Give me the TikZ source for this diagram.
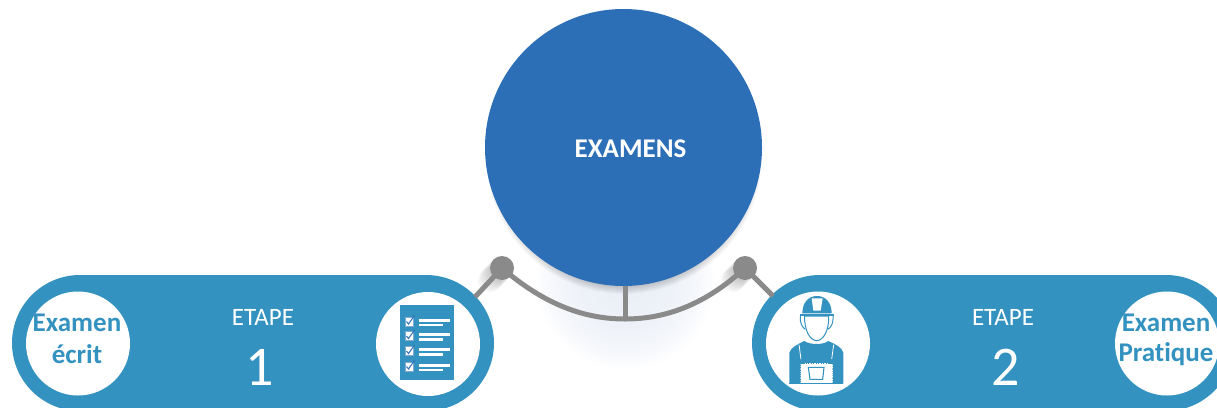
\documentclass[tikz,border=0pt]{standalone}
\usepackage{fontspec}
\setmainfont[Ligatures=NoCommon]{Carlito}
\usetikzlibrary{shapes.misc,calc}
\definecolor{mainblue}{HTML}{2C6FB7}
\definecolor{pillblue}{HTML}{3392BF}
\definecolor{linegray}{HTML}{8A8A8A}
\definecolor{glowa}{HTML}{E9EEF6}
\definecolor{glowb}{HTML}{EEF2F8}
\definecolor{glowd}{HTML}{F5F7FB}
\pgfdeclareradialshading{glowshade}{\pgfpoint{0bp}{0bp}}{color(0bp)=(glowa); color(13bp)=(glowb); color(20bp)=(glowd); color(25bp)=(white); color(50bp)=(white)}
\tikzset{
  pillshape/.style={rounded rectangle,fill=pillblue,minimum height=136pt,inner sep=0pt,outer sep=0pt},
  whitedisc/.style={circle,fill=white,minimum size=104pt,inner sep=0pt,outer sep=0pt},
  hubdot/.style={circle,fill=linegray,minimum size=24pt,inner sep=0pt},
  wire/.style={draw=linegray,line width=5pt},
  labeltext/.style={text=pillblue,font=\fontsize{27}{31}\selectfont\bfseries,align=center,inner sep=0pt},
  etapetext/.style={text=white,font=\fontsize{25}{29}\selectfont,inner sep=0pt},
  numtext/.style={text=white,font=\fontsize{56}{60}\selectfont,inner sep=0pt},
  iconline/.style={fill=white},
  checkbox/.style={fill=white,draw=mainblue!60!white,line width=.8pt},
  checkmark/.style={draw=mainblue,line width=1pt}
}
\newcommand{\checkrow}[1]{%
  \filldraw[checkbox] (405,#1-4.5) rectangle (413.5,#1+4.5);
  \draw[checkmark] (406.5,#1) -- (408.5,#1+2.5) -- (414.5,#1-6);
  \fill[iconline] (419,#1-3) rectangle (450,#1);
  \fill[iconline] (419,#1+2.2) rectangle (443,#1+4.8);
}
\begin{document}
\begin{tikzpicture}[x=1pt,y=-1pt]
\useasboundingbox (0,0) rectangle (1217,407);
\clip (0,0) rectangle (1217,407);
% glow under hub
\fill[shading=glowshade] (535,190) rectangle (715,370);
% contact shadow
\foreach \r in {131,132,...,138}{\fill[black,opacity=.024] (624,156) circle (\r);}
\node[pillshape,minimum width=482pt] (pillL) at (253,343) {};
\node[pillshape,minimum width=482pt] (pillR) at (993,343) {};
\coordinate (endL) at (475,297);
\coordinate (endR) at (773,296);
\coordinate (arcMid) at (625,319);
\coordinate (dotLc) at (502,268);
\coordinate (dotRc) at (745,268);
% dot shadows
\foreach \d in {2,4,...,12}{
  \fill[black,opacity=.035] ($(dotLc)+(-\d,\d)$) circle (12);
  \fill[black,opacity=.035] ($(dotRc)+(-\d,\d)$) circle (12);
}
\node[circle,fill=mainblue,minimum size=277pt,inner sep=0pt] (hub) at (623.5,147.5) {};
\node[text=white,font=\fontsize{27}{31}\selectfont\bfseries,inner sep=0pt] at (630.5,149) {EXAMENS};
\draw[wire] (dotLc) -- (endL);
\draw[wire] (dotRc) -- (endR);
\draw[wire] (hub.south -| arcMid) -- (arcMid);
\draw[wire] (dotLc) .. controls (545,305) and (585,319) .. (arcMid) .. controls (665,319) and (705,305) .. (dotRc);
\node[hubdot] (dotL) at (dotLc) {};
\node[hubdot] (dotR) at (dotRc) {};
\node[whitedisc] (leftA) at (78,343.5) {};
\node[whitedisc] (leftB) at (428,344) {};
\node[whitedisc] (rightA) at (818,343.5) {};
\node[whitedisc] (rightB) at (1167,343.5) {};
\node[labeltext] at (77,323) {Examen};
\node[labeltext] at (77,354) {écrit};
\node[labeltext] at (1166,323) {Examen};
\node[labeltext] at (1166,354) {Pratique};
\node[etapetext] at (263,317) {ETAPE};
\node[etapetext] at (1003,317) {ETAPE};
\node[numtext] at (260,367) {1};
\node[numtext] at (1006,367) {2};
% clipboard icon
\fill[pillblue] (400,305) rectangle (454,380);
\checkrow{321.5}\checkrow{336}\checkrow{351}\checkrow{366.5}
% worker icon
\begin{scope}[shift={(760,270)},x=0.3333pt,y=-0.3333pt]
  \fill[pillblue] (88,340) -- (88,248) .. controls (92,232) and (115,222) .. (133,213)
     .. controls (150,225) and (190,225) .. (205,213)
     .. controls (225,222) and (246,232) .. (250,248) -- (250,340) -- cycle;
  \draw[white,line width=.8pt] (117,224) -- (123,268);
  \draw[white,line width=.8pt] (221,224) -- (215,268);
  \fill[white] (122,280) -- (218,280) -- (218,340) -- (122,340) -- cycle;
  \draw[pillblue,line width=.5pt,dotted] (122,280) -- (218,280);
  \draw[pillblue!50!white,line width=.8pt,densely dotted] (122,282) -- (122,338);
  \draw[pillblue!50!white,line width=.8pt,densely dotted] (218,282) -- (218,338);
  \fill[pillblue] (122,266) rectangle (134,282);
  \fill[pillblue] (206,266) rectangle (218,282);
  \fill[pillblue] (88,338) rectangle (250,343);
  \draw[pillblue,line width=1.1pt,fill=white] (145,292) -- (192,292) -- (188,328) -- (150,328) -- cycle;
  % face
  \draw[pillblue,line width=1pt,fill=white] (134,138) .. controls (132,180) and (150,212) .. (170,212)
     .. controls (190,212) and (208,180) .. (206,138) -- cycle;
  % ear pieces
  \draw[pillblue,line width=1pt] (121,138) .. controls (120,160) and (125,170) .. (136,178);
  \draw[pillblue,line width=1pt] (219,138) .. controls (220,160) and (215,170) .. (204,178);
  % helmet
  \fill[pillblue] (127,130) .. controls (127,98) and (145,78) .. (171,78)
     .. controls (197,78) and (215,98) .. (215,130) -- cycle;
  \fill[pillblue] (120,131) rectangle (222,138);
  \fill[white] (155,85) -- (188,85) -- (182,122) -- (160,122) -- cycle;
\end{scope}
\end{tikzpicture}
\end{document}
